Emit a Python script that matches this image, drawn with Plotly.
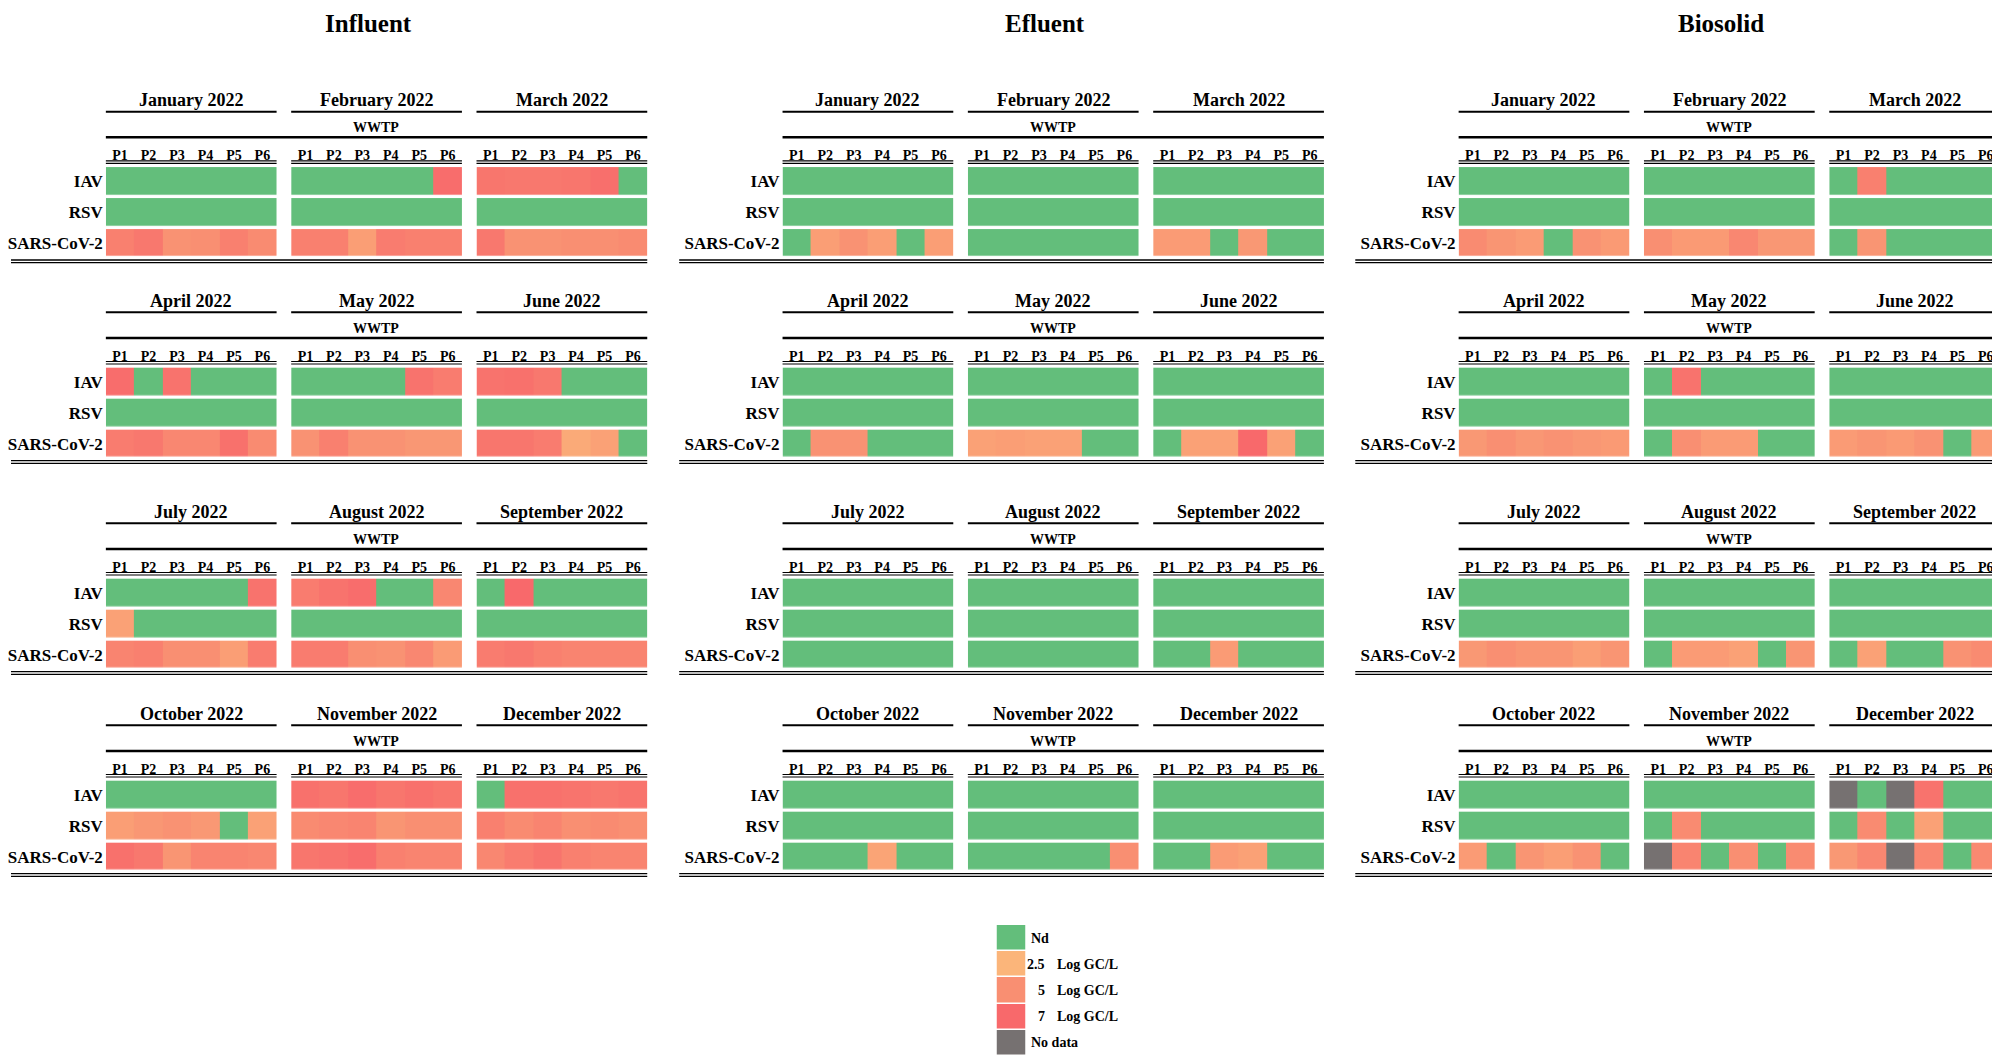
import plotly.graph_objects as go

# ---------------- data ----------------
MATRICES = ["Influent", "Efluent", "Biosolid"]
MONTHS = ["January 2022", "February 2022", "March 2022",
          "April 2022", "May 2022", "June 2022",
          "July 2022", "August 2022", "September 2022",
          "October 2022", "November 2022", "December 2022"]
POINTS = ["P1", "P2", "P3", "P4", "P5", "P6"]
VIRUSES = ["IAV", "RSV", "SARS-CoV-2"]

ND = 0.0    # not detected
NA = None   # no data

# values in Log GC/L, one row per month, one column per sampling point P1..P6
influent_iav = [
    [ND, ND, ND, ND, ND, ND],
    [ND, ND, ND, ND, ND, 6.8],
    [6.3, 6.2, 6.2, 6.3, 6.7, ND],
    [6.8, ND, 6.5, ND, ND, ND],
    [ND, ND, ND, ND, 6.5, 6.0],
    [6.5, 6.6, 6.2, ND, ND, ND],
    [ND, ND, ND, ND, ND, 6.5],
    [6.0, 6.5, 6.8, ND, ND, 5.4],
    [ND, 7.0, ND, ND, ND, ND],
    [ND, ND, ND, ND, ND, ND],
    [6.6, 6.3, 6.8, 6.3, 6.6, 6.3],
    [ND, 6.6, 6.6, 6.4, 6.2, 6.4],
]
influent_rsv = [
    [ND, ND, ND, ND, ND, ND],
    [ND, ND, ND, ND, ND, ND],
    [ND, ND, ND, ND, ND, ND],
    [ND, ND, ND, ND, ND, ND],
    [ND, ND, ND, ND, ND, ND],
    [ND, ND, ND, ND, ND, ND],
    [3.8, ND, ND, ND, ND, ND],
    [ND, ND, ND, ND, ND, ND],
    [ND, ND, ND, ND, ND, ND],
    [4.0, 4.5, 4.8, 4.4, ND, 3.8],
    [5.2, 5.4, 5.6, 4.6, 5.0, 5.0],
    [5.8, 5.2, 5.6, 5.0, 5.2, 5.0],
]
influent_sars = [
    [5.8, 6.2, 4.8, 5.0, 5.8, 5.2],
    [5.8, 5.8, 4.0, 6.0, 5.8, 5.8],
    [6.2, 4.8, 4.8, 5.0, 5.0, 5.2],
    [6.0, 6.2, 5.4, 5.4, 6.6, 5.2],
    [4.8, 5.8, 4.8, 4.8, 4.5, 4.5],
    [6.3, 6.3, 6.0, 3.2, 3.8, ND],
    [5.6, 5.8, 5.0, 5.0, 4.0, 6.0],
    [6.0, 6.0, 5.0, 4.8, 5.4, 4.2],
    [6.0, 6.2, 5.8, 5.6, 5.6, 5.6],
    [6.6, 6.2, 4.6, 5.6, 5.6, 5.4],
    [6.3, 6.5, 6.8, 5.8, 5.6, 5.6],
    [5.4, 6.0, 6.4, 5.8, 5.6, 5.6],
]

efluent_iav = [[ND] * 6 for _ in range(12)]
efluent_rsv = [[ND] * 6 for _ in range(12)]
efluent_sars = [
    [ND, 4.0, 4.8, 4.0, ND, 4.0],
    [ND, ND, ND, ND, ND, ND],
    [4.2, 4.2, ND, 4.4, ND, ND],
    [ND, 4.8, 4.8, ND, ND, ND],
    [3.8, 4.0, 3.8, 3.8, ND, ND],
    [ND, 3.8, 3.8, 7.0, 3.8, ND],
    [ND, ND, ND, ND, ND, ND],
    [ND, ND, ND, ND, ND, ND],
    [ND, ND, 4.2, ND, ND, ND],
    [ND, ND, ND, 3.6, ND, ND],
    [ND, ND, ND, ND, ND, 5.0],
    [ND, ND, 4.2, 3.8, ND, ND],
]

biosolid_iav = [
    [ND, ND, ND, ND, ND, ND],
    [ND, ND, ND, ND, ND, ND],
    [ND, 5.8, ND, ND, ND, ND],
    [ND, ND, ND, ND, ND, ND],
    [ND, 6.5, ND, ND, ND, ND],
    [ND, ND, ND, ND, ND, ND],
    [ND, ND, ND, ND, ND, ND],
    [ND, ND, ND, ND, ND, ND],
    [ND, ND, ND, ND, ND, ND],
    [ND, ND, ND, ND, ND, ND],
    [ND, ND, ND, ND, ND, ND],
    [NA, ND, NA, 6.5, ND, ND],
]
biosolid_rsv = [
    [ND, ND, ND, ND, ND, ND],
    [ND, ND, ND, ND, ND, ND],
    [ND, ND, ND, ND, ND, ND],
    [ND, ND, ND, ND, ND, ND],
    [ND, ND, ND, ND, ND, ND],
    [ND, ND, ND, ND, ND, ND],
    [ND, ND, ND, ND, ND, ND],
    [ND, ND, ND, ND, ND, ND],
    [ND, ND, ND, ND, ND, ND],
    [ND, ND, ND, ND, ND, ND],
    [ND, 5.2, ND, ND, ND, ND],
    [ND, 5.2, ND, 3.8, ND, ND],
]
biosolid_sars = [
    [5.2, 4.6, 4.2, ND, 4.8, 4.3],
    [5.0, 4.3, 4.3, 5.4, 4.5, 4.5],
    [ND, 4.6, ND, ND, ND, ND],
    [4.4, 5.0, 4.5, 4.8, 4.5, 4.3],
    [ND, 5.0, 4.2, 4.2, ND, ND],
    [4.2, 4.6, 4.3, 4.8, ND, 4.3],
    [4.4, 5.0, 4.6, 4.6, 4.0, 4.6],
    [ND, 4.2, 4.2, 3.8, ND, 4.6],
    [ND, 3.8, ND, ND, 4.8, 5.2],
    [4.2, ND, 4.6, 4.0, 4.8, ND],
    [NA, 5.6, ND, 5.0, ND, 5.2],
    [4.4, 5.4, NA, 5.4, ND, 5.3],
]

DATA = {
    "Influent": [influent_iav, influent_rsv, influent_sars],
    "Efluent": [efluent_iav, efluent_rsv, efluent_sars],
    "Biosolid": [biosolid_iav, biosolid_rsv, biosolid_sars],
}

LEGEND_VALUES = [0.0, 2.5, 5.0, 7.0, None]
LEGEND_NUMS = ["", "2.5", "5", "7", ""]
LEGEND_WORDS = ["Nd", "Log GC/L", "Log GC/L", "Log GC/L", "No data"]

# ---------------- style ----------------
W, H = 2000, 1056
PAGE_OFF = 8          # page body margin: positions below are measured in screen pixels
FONT = "Liberation Serif"
GRAY = "#767171"
GREEN = "#63BE7B"
LO = "#FBB57A"
MID = "#F98F72"
RED = "#F8696B"
ZMIN, ZMAX = -1.0, 7.0


def norm(v):
    return (v - ZMIN) / (ZMAX - ZMIN)


COLORSCALE = [
    [0.0, GRAY], [norm(-0.5), GRAY], [norm(-0.49), GREEN], [norm(1.5), GREEN],
    [norm(2.5), LO], [norm(5.0), MID], [1.0, RED],
]


def zval(v):
    return ZMIN if v is None else v


def X(px):
    return min(max((px - PAGE_OFF) / W, 0.0), 1.0)


def Y(py):
    return min(max(1 - (py - PAGE_OFF) / H, 0.0), 1.0)


COL_OFF = [103.0, 780.7, 1457.8]
BLOCK_T = [167.7, 368.3, 579.3, 781.3]
MONTH_PITCH = 185.6
MONTH_W = 171.0
CELL_H = 27.5
YGAP = 3.3
GRID_H = 3 * CELL_H + 3 * YGAP

fig = go.Figure()
shapes = []
annotations = []
layout_axes = {}


def hline(x0, x1, y, w):
    shapes.append(dict(type="line", xref="paper", yref="paper",
                       x0=X(x0), x1=X(x1), y0=Y(y), y1=Y(y),
                       line=dict(color="black", width=w)))


def text(x, y, s, size, xanchor="center", yanchor="middle"):
    annotations.append(dict(x=X(x), y=Y(y), xref="paper", yref="paper", text=s,
                            showarrow=False, xanchor=xanchor, yanchor=yanchor,
                            font=dict(family=FONT, size=size, color="black", weight="bold")))


k = 0
for c, mat in enumerate(MATRICES):
    off = COL_OFF[c]
    text(off + 263, PAGE_OFF, mat, 25, yanchor="top")
    for b in range(4):
        T = BLOCK_T[b]
        top = T - YGAP / 2
        bot = top + GRID_H
        end3 = off + 2 * MONTH_PITCH + MONTH_W
        # WWTP header
        text(off + 271, T - 40, "WWTP", 14)
        hline(off, end3, T - 30.4, 2.5)
        # bottom double line
        hline(off - 103.5, end3, T + 92.3, 1.3)
        hline(off - 103.5, end3, T + 95.0, 1.3)
        for mi in range(3):
            m = b * 3 + mi
            k += 1
            x0 = off + mi * MONTH_PITCH
            x1 = x0 + MONTH_W
            z = [[zval(DATA[mat][v][m][p]) for p in range(6)] for v in range(3)]
            fig.add_trace(go.Heatmap(
                z=z, x=list(range(6)), y=list(range(3)),
                xaxis=f"x{k}", yaxis=f"y{k}",
                colorscale=COLORSCALE, zmin=ZMIN, zmax=ZMAX,
                showscale=False, ygap=YGAP, xgap=0, hoverinfo="skip"))
            layout_axes[f"xaxis{k}"] = dict(
                domain=[X(x0), X(x1)], anchor=f"y{k}", side="top",
                range=[-0.5, 5.5], tickmode="array", tickvals=list(range(6)),
                ticktext=POINTS, ticks="", showgrid=False, zeroline=False,
                showline=False, ticklabelstandoff=2,
                tickfont=dict(family=FONT, size=14, color="black", weight="bold"))
            layout_axes[f"yaxis{k}"] = dict(
                domain=[Y(bot), Y(top)], anchor=f"x{k}",
                range=[2.5, -0.5], tickmode="array", tickvals=list(range(3)),
                ticktext=VIRUSES, ticks="", showgrid=False, zeroline=False,
                showline=False, showticklabels=(mi == 0), ticklabelstandoff=2,
                tickfont=dict(family=FONT, size=17, color="black", weight="bold"))
            text(x0 + MONTH_W / 2, T - 67.7, MONTHS[m], 18)
            hline(x0, x1, T - 56, 2)
            hline(x0, x1, T - 6.8, 1.2)
            hline(x0, x1, T - 4.3, 1.2)

# legend as a small heatmap
k += 1
LEG_X0, LEG_X1 = 995, 1024
LEG_Y0, LEG_Y1 = 925, 1056
fig.add_trace(go.Heatmap(
    z=[[zval(v)] for v in LEGEND_VALUES], x=[0], y=list(range(5)),
    xaxis=f"x{k}", yaxis=f"y{k}", colorscale=COLORSCALE, zmin=ZMIN, zmax=ZMAX,
    showscale=False, ygap=1.5, hoverinfo="skip"))
layout_axes[f"xaxis{k}"] = dict(domain=[X(LEG_X0), X(LEG_X1)], anchor=f"y{k}",
                                range=[-0.5, 0.5], visible=False)
layout_axes[f"yaxis{k}"] = dict(domain=[Y(LEG_Y1), Y(LEG_Y0)], anchor=f"x{k}",
                                range=[4.5, -0.5], visible=False)
step = (LEG_Y1 - LEG_Y0) / 5
for i in range(5):
    yc = LEG_Y0 + step * (i + 0.5)
    if LEGEND_NUMS[i]:
        text(1046, yc, LEGEND_NUMS[i], 14, xanchor="right")
        text(1054, yc, LEGEND_WORDS[i], 14, xanchor="left")
    else:
        text(1028, yc, LEGEND_WORDS[i], 14, xanchor="left")

fig.update_layout(
    width=W, height=H, margin=dict(l=0, r=0, t=0, b=0),
    paper_bgcolor="white", plot_bgcolor="white",
    showlegend=False, shapes=shapes, annotations=annotations,
    font=dict(family=FONT, color="black"),
    **layout_axes)

fig.write_html("out.html")
